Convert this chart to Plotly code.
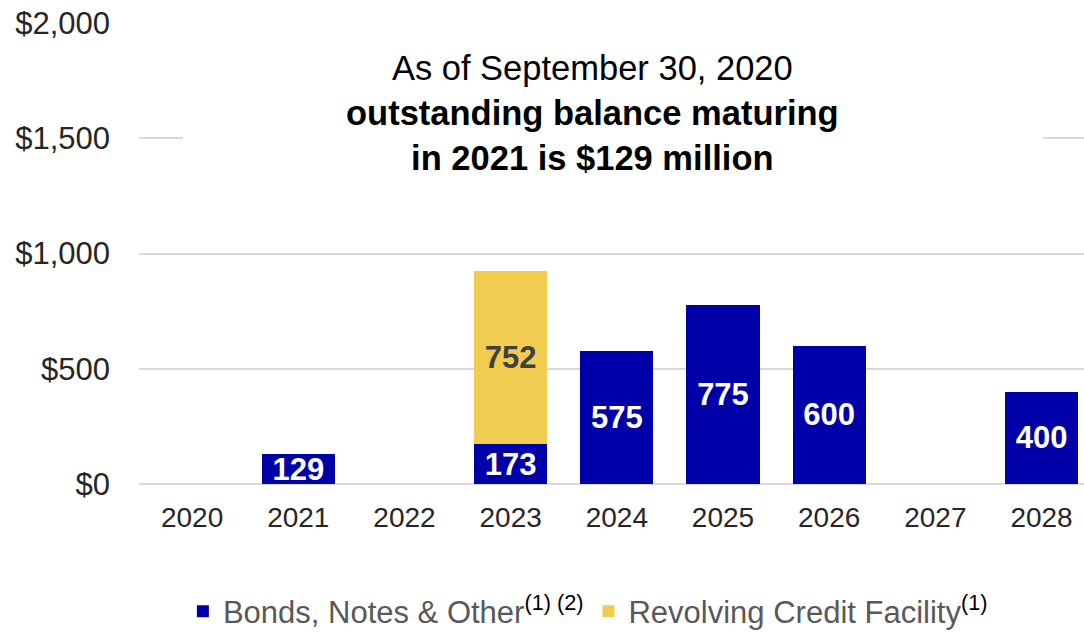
import plotly.graph_objects as go

years = ["2020", "2021", "2022", "2023", "2024", "2025", "2026", "2027", "2028"]
bonds = [None, 129, None, 173, 575, 775, 600, None, 400]
revolver = [None, None, None, 752, None, None, None, None, None]
y_ticks = [0, 500, 1000, 1500, 2000]
y_tick_labels = ["$0", "$500", "$1,000", "$1,500", "$2,000"]

BLUE = "#0000A8"
GOLD = "#F0CD50"
FONT = "Liberation Sans, Arial, sans-serif"


def present(vals):
    xs = [c for c, v in zip(years, vals) if v is not None]
    ys = [v for v in vals if v is not None]
    return xs, ys


fig = go.Figure()
bx, by = present(bonds)
fig.add_trace(go.Bar(
    x=bx, y=by,
    name='Bonds, Notes & Other<span style="color:#000000"><sup>(1) (2)</sup></span>',
    marker=dict(color=BLUE, line=dict(width=0)),
    text=[f"{v:,}" for v in by], textposition="inside", insidetextanchor="middle",
    textfont=dict(family=FONT, size=31, color="white", weight="bold"),
    hoverinfo="skip",
))
rx, ry = present(revolver)
fig.add_trace(go.Bar(
    x=rx, y=ry,
    name='Revolving Credit Facility<span style="color:#000000"><sup>(1)</sup></span>',
    marker=dict(color=GOLD, line=dict(width=0)),
    text=[f"{v:,}" for v in ry], textposition="inside", insidetextanchor="middle",
    textfont=dict(family=FONT, size=31, color="#404040", weight="bold"),
    hoverinfo="skip",
))

fig.update_layout(
    width=1084, height=633,
    barmode="stack", bargap=0.31,
    plot_bgcolor="white", paper_bgcolor="white",
    margin=dict(l=139, r=0, t=23, b=149, autoexpand=False),
    uniformtext=dict(minsize=31, mode="show"),
    font=dict(family=FONT, color="#262626"),
    xaxis=dict(
        type="category", categoryorder="array", categoryarray=years,
        range=[-0.5, 8.4], showgrid=False, showline=False, zeroline=False,
        tickfont=dict(size=28, color="#262626"), ticks="", ticklabelstandoff=14,
        fixedrange=True,
    ),
    yaxis=dict(
        range=[0, 2000], tickvals=y_ticks, ticktext=y_tick_labels,
        showgrid=True, gridcolor="#D9D9D9", gridwidth=2,
        zeroline=True, zerolinecolor="#D9D9D9", zerolinewidth=2,
        showline=False, ticks="",
        tickfont=dict(size=31, color="#262626"), ticklabelstandoff=28,
        fixedrange=True,
    ),
    legend=dict(
        orientation="h", x=0.475, xanchor="center", y=-0.218, yanchor="top",
        font=dict(family=FONT, size=31, color="#595959"),
        itemwidth=30, tracegroupgap=0, traceorder="normal",
    ),
    shapes=[dict(
        type="rect", xref="paper", yref="paper",
        x0=(183 - 139) / 945, x1=(1043 - 139) / 945,
        y0=0.62, y1=0.9, fillcolor="white", line=dict(width=0), layer="above",
    )],
    annotations=[dict(
        xref="paper", yref="paper", x=(592 - 139) / 945, y=(484 - 113) / 461,
        text="As of September 30, 2020<br><b>outstanding balance maturing</b><br><b>in 2021 is $129 million</b>",
        showarrow=False, align="center", xanchor="center", yanchor="middle",
        font=dict(family=FONT, size=34.5, color="black"),
    )],
)

fig.write_html("out.html", config={"displayModeBar": False})
